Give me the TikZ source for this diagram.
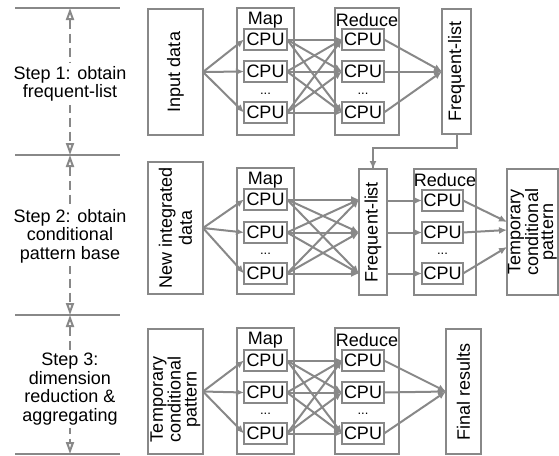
\documentclass[tikz,border=0pt]{standalone}
\usepackage{fontspec}
\setmainfont{Liberation Sans}
\usetikzlibrary{arrows.meta,calc}
\definecolor{lg}{RGB}{136,136,136}
\begin{document}
\begin{tikzpicture}[x=1pt,y=-1pt,
  every node/.style={font=\fontsize{18}{18.5}\selectfont, text=black},
  box/.style={draw=lg, line width=2.4pt, inner sep=0pt, outer sep=0pt, anchor=north west},
  cpu/.style={draw=lg, line width=2.4pt, inner sep=0pt, outer sep=0pt, minimum width=43pt, minimum height=21pt, anchor=north west},
  arr/.style={draw=lg, line width=2pt, -{Latex[length=8pt,width=7pt]}},
  plainline/.style={draw=lg, line width=2pt},
  stepline/.style={draw=lg, line width=2pt},
  steparr/.style={draw=lg, line width=2pt, dash pattern=on 9pt off 5pt, {Triangle[open,length=12pt,width=8pt]}-{Triangle[open,length=12pt,width=8pt]}},
  steptext/.style={fill=white, align=center, inner sep=3pt},
  rot/.style={rotate=90, align=center, inner sep=0pt},
  lbl/.style={anchor=base, inner sep=0pt},
  dots/.style={anchor=base, inner sep=0pt, font=\fontsize{13}{13}\selectfont}
]
\useasboundingbox (0,0) rectangle (559,455);

% ---------- left step markers ----------
\draw[stepline] (15,8) -- (120,8);
\draw[stepline] (15,155) -- (120,155);
\draw[stepline] (15,315) -- (120,315);
\draw[stepline] (15,454) -- (120,454);
\coordinate (t1) at (70,8);
\coordinate (t2) at (70,155);
\coordinate (t3) at (70,315);
\coordinate (t4) at (70,454);
\draw[steparr] (t1) -- (t2);
\draw[steparr] (t2) -- (t3);
\draw[steparr] (t3) -- (t4);
\node[steptext] (s1) at (70,84) {Step 1: obtain\\frequent-list};
\node[steptext] (s2) at (70,236) {Step 2: obtain\\conditional\\pattern base};
\node[steptext] (s3) at (70,389) {Step 3:\\dimension\\reduction \&\\aggregating};

% ---------- row 1 ----------
\node[box, minimum width=55pt, minimum height=126pt] (in1) at (148,9) {};
\node[rot] (in1t) at (in1.center) {Input data};
\node[box, minimum width=57pt, minimum height=127pt] (map1) at (237,8) {};
\node[lbl] (map1l) at (265.5,24) {Map};
\node[cpu] (m1a) at (244,29) {CPU};
\node[cpu] (m1b) at (244,61) {CPU};
\node[cpu] (m1c) at (244,102) {CPU};
\node[dots] (m1d) at (265.5,94) {...};
\node[box, minimum width=64pt, minimum height=127pt] (red1) at (335,8) {};
\node[lbl] (red1l) at (367,26) {Reduce};
\node[cpu, minimum width=42pt] (r1a) at (342,29) {CPU};
\node[cpu, minimum width=42pt] (r1b) at (342,61) {CPU};
\node[cpu, minimum width=42pt] (r1c) at (342,102) {CPU};
\node[dots] (r1d) at (363,94) {...};
\node[box, minimum width=29pt, minimum height=125pt] (fl1) at (442,9) {};
\node[rot] (fl1t) at (fl1.center) {Frequent-list};

\foreach \c in {a,b,c} \draw[arr] (in1.east) -- (m1\c.west);
\foreach \s in {a,b,c} \foreach \t in {a,b,c} \draw[arr] (m1\s.east) -- (r1\t.west);
\foreach \s in {a,b,c} \draw[arr] (r1\s.east) -- (fl1.west);

% ---------- row 2 ----------
\node[box, minimum width=55pt, minimum height=132pt] (in2) at (148,162) {};
\node[rot, font=\fontsize{18}{20}\selectfont] (in2t) at (in2.center) {New integrated\\data};
\node[box, minimum width=57pt, minimum height=126pt] (map2) at (237,168) {};
\node[lbl] (map2l) at (265.5,184) {Map};
\node[cpu] (m2a) at (244,189) {CPU};
\node[cpu] (m2b) at (244,222) {CPU};
\node[cpu] (m2c) at (244,263) {CPU};
\node[dots] (m2d) at (265.5,254) {...};
\node[box, minimum width=28pt, minimum height=126pt] (fl2) at (359,169) {};
\node[rot] (fl2t) at (fl2.center) {Frequent-list};
\node[box, minimum width=62pt, minimum height=126pt] (red2) at (414,169) {};
\node[lbl] (red2l) at (445,186) {Reduce};
\node[cpu, minimum width=41pt] (r2a) at (422,190) {CPU};
\node[cpu, minimum width=41pt] (r2b) at (422,222) {CPU};
\node[cpu, minimum width=41pt] (r2c) at (422,263) {CPU};
\node[dots] (r2d) at (442.5,254) {...};
\node[box, minimum width=51pt, minimum height=126pt] (tmp2) at (507,169) {};
\node[rot, font=\fontsize{18}{15}\selectfont] (tmp2t) at (tmp2.center) {Temporary\\conditional\\pattern};

\coordinate (bend) at (457,148);
\draw[plainline] (fl1.south) -- (fl1.south |- bend) -| (fl2.north);
\draw[arr] (bend -| fl2.north) -- (fl2.north);

\foreach \c in {a,b,c} \draw[arr] (in2.east) -- (m2\c.west);
\foreach \s in {a,b,c} \foreach \t in {a,b,c} \draw[arr] (m2\s.east) -- (m2\t.east -| fl2.west);
\foreach \s in {a,b,c} \draw[arr] (r2\s.west -| fl2.east) -- (r2\s.west);
\draw[arr] (r2a.east) -- ([yshift=10pt]tmp2.west);
\draw[arr] (r2b.east) -- ([yshift=2pt]tmp2.west);
\draw[arr] (r2c.east) -- ([yshift=-15pt]tmp2.west);

% ---------- row 3 ----------
\node[box, minimum width=55pt, minimum height=125pt] (in3) at (148,329) {};
\node[rot, font=\fontsize{18}{16}\selectfont] (in3t) at ([yshift=-8pt]in3.center) {Temporary\\conditional\\pattern};
\node[box, minimum width=57pt, minimum height=126pt] (map3) at (237,328) {};
\node[lbl] (map3l) at (265.5,344) {Map};
\node[cpu] (m3a) at (244,350) {CPU};
\node[cpu] (m3b) at (244,382) {CPU};
\node[cpu] (m3c) at (244,423) {CPU};
\node[dots] (m3d) at (265.5,414) {...};
\node[box, minimum width=64pt, minimum height=126pt] (red3) at (335,328) {};
\node[lbl] (red3l) at (367,346) {Reduce};
\node[cpu, minimum width=42pt] (r3a) at (342,350) {CPU};
\node[cpu, minimum width=42pt] (r3b) at (342,382) {CPU};
\node[cpu, minimum width=42pt] (r3c) at (342,423) {CPU};
\node[dots] (r3d) at (363,414) {...};
\node[box, minimum width=35pt, minimum height=125pt] (fr3) at (446,329) {};
\node[rot] (fr3t) at (fr3.center) {Final results};

\foreach \c in {a,b,c} \draw[arr] (in3.east) -- (m3\c.west);
\foreach \s in {a,b,c} \foreach \t in {a,b,c} \draw[arr] (m3\s.east) -- (r3\t.west);
\foreach \s in {a,b,c} \draw[arr] (r3\s.east) -- (fr3.west);
\end{tikzpicture}
\end{document}
